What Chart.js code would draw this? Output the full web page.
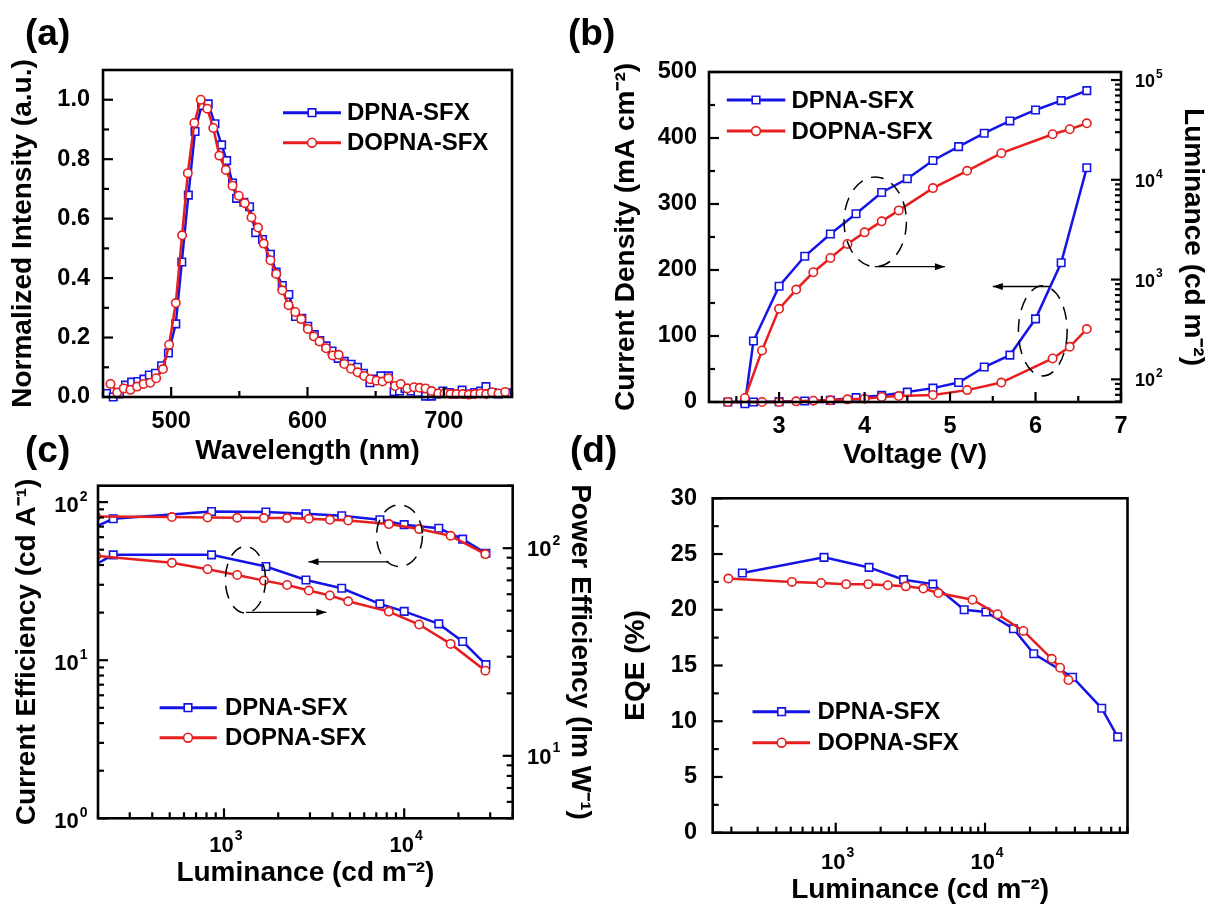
<!DOCTYPE html>
<html>
<head>
<meta charset="utf-8">
<script src="https://cdn.jsdelivr.net/npm/chart.js@4.4.1/dist/chart.umd.min.js"></script>
<style>
body { margin: 0; background: #fff; width: 1214px; height: 907px; overflow: hidden; position: relative; font-family: "Liberation Sans", Arial, sans-serif; }
canvas { position: absolute; }
.lab { position: absolute; font-weight: bold; font-size: 37px; line-height: 1; color: #000; }
</style>
</head>
<body>
<canvas id="pa" width="560" height="480" style="left:0;top:0"></canvas>
<canvas id="pb" width="654" height="480" style="left:560px;top:0"></canvas>
<canvas id="pc" width="600" height="467" style="left:0;top:440px"></canvas>
<canvas id="pd" width="614" height="467" style="left:600px;top:440px"></canvas>
<div class="lab" style="left:25px;top:14px">(a)</div>
<div class="lab" style="left:568px;top:14px">(b)</div>
<div class="lab" style="left:25px;top:431px">(c)</div>
<div class="lab" style="left:570px;top:431px">(d)</div>
<script>
// series names
const names = ['DPNA-SFX', 'DOPNA-SFX'];

// (a) normalized PL spectra
const plWlBlue = [452.6, 457.5, 462.0, 466.5, 471.0, 475.5, 480.0, 484.0, 488.5, 493.0, 498.0, 503.4, 507.8, 512.6, 517.5, 522.3, 527.2, 532.1, 537.0, 540.7, 545.0, 548.0, 553.3, 557.5, 562.0, 567.0, 572.8, 577.0, 581.5, 586.3, 591.2, 595.8, 600.2, 605.0, 609.0, 613.6, 618.0, 622.5, 627.0, 632.0, 636.7, 641.0, 645.8, 650.0, 653.8, 659.4, 663.5, 667.5, 671.5, 676.0, 681.0, 686.6, 691.0, 695.0, 699.3, 704.0, 708.5, 713.4, 718.0, 722.5, 727.0, 730.9, 735.5, 740.0, 746.3];
const plBlue = [0.012, 0.0, 0.01, 0.04, 0.05, 0.052, 0.06, 0.074, 0.08, 0.105, 0.148, 0.246, 0.454, 0.679, 0.893, 0.98, 0.986, 0.919, 0.848, 0.795, 0.72, 0.668, 0.655, 0.64, 0.553, 0.53, 0.48, 0.42, 0.375, 0.345, 0.271, 0.265, 0.238, 0.21, 0.19, 0.172, 0.155, 0.13, 0.12, 0.11, 0.1, 0.08, 0.048, 0.06, 0.071, 0.071, 0.018, 0.02, 0.029, 0.02, 0.015, 0.003, 0.003, 0.01, 0.02, 0.015, 0.01, 0.023, 0.01, 0.015, 0.02, 0.035, 0.015, 0.01, 0.014];
const plWlRed = [455.5, 460.4, 465.2, 470.1, 475.0, 479.8, 484.7, 489.0, 494.0, 498.5, 503.4, 508.0, 512.2, 517.0, 521.7, 526.5, 530.9, 535.3, 540.1, 545.0, 549.6, 554.0, 558.9, 563.7, 567.9, 572.8, 577.1, 581.5, 586.1, 591.0, 595.4, 600.2, 604.6, 608.8, 613.6, 618.5, 622.9, 627.0, 631.9, 636.7, 641.6, 646.0, 650.6, 655.0, 659.4, 664.2, 668.4, 673.2, 678.1, 682.3, 686.6, 691.0, 695.9, 700.5, 704.9, 709.3, 713.9, 718.3, 722.7, 726.8, 731.0, 735.3, 740.1, 745.0];
const plRed = [0.044, 0.015, 0.029, 0.024, 0.035, 0.044, 0.048, 0.063, 0.094, 0.176, 0.316, 0.544, 0.753, 0.922, 1.0, 0.97, 0.905, 0.812, 0.764, 0.711, 0.677, 0.652, 0.604, 0.57, 0.516, 0.46, 0.414, 0.359, 0.309, 0.286, 0.262, 0.229, 0.204, 0.187, 0.164, 0.14, 0.142, 0.111, 0.095, 0.083, 0.071, 0.06, 0.055, 0.052, 0.063, 0.037, 0.044, 0.029, 0.033, 0.031, 0.029, 0.02, 0.012, 0.012, 0.01, 0.01, 0.01, 0.008, 0.01, 0.012, 0.01, 0.016, 0.012, 0.017];

// (b) J-V-L
const vBlue = [2.4, 2.6, 2.7, 3.0, 3.3, 3.6, 3.9, 4.2, 4.5, 4.8, 5.1, 5.4, 5.7, 6.0, 6.3, 6.6];
const jBlue = [0, 0, 0, 0.5, 1.5, 2.5, 6.7, 10, 15, 21, 29.5, 53, 71, 126, 211, 355];
const lumBlue = [null, 57, 242, 858, 1711, 2862, 4571, 7470, 10230, 15600, 21500, 29300, 38900, 50100, 62100, 78200];
const vRed = [2.4, 2.6, 2.8, 3.0, 3.2, 3.4, 3.6, 3.8, 4.0, 4.2, 4.4, 4.8, 5.2, 5.6, 6.2, 6.4, 6.6];
const jRed = [0, 0, 0, 0, 1, 2, 2.5, 4, 5, 7.6, 9, 10.6, 18, 29.5, 66, 83.6, 110.5];
const lumRed = [null, 65, 195, 509, 794, 1184, 1647, 2274, 2973, 3831, 4936, 8254, 12300, 18480, 28600, 32100, 36800];

// (c) current / power efficiency
const ceLumBlue = [170, 243, 853, 1708, 2851, 4500, 7330, 10000, 15560, 21100, 28400];
const ceBlue = [65.5, 78.4, 87.3, 86.5, 84.4, 81.9, 77.3, 72, 68.4, 58.3, 47.5];
const peBlue = [78.5, 92.9, 92.9, 81.6, 70.3, 64.1, 53.9, 49.6, 43.2, 35.5, 27.5];
const ceLumRed = [195, 514, 811, 1184, 1666, 2240, 2958, 3870, 4890, 8220, 12100, 18100, 28200];
const ceRed = [81.1, 80.4, 80, 79.6, 79.2, 79.2, 78.4, 77.3, 76.5, 72.6, 67.5, 61.2, 46.9];
const peRed = [92, 85, 79.2, 74.3, 69.8, 66.5, 62.5, 59.2, 55.5, 49.5, 42.9, 34.6, 25.7];

// (d) EQE
const eqeLumBlue = [237, 835, 1672, 2850, 4475, 7250, 10140, 15490, 21200, 38600, 60500, 77300];
const eqeBlue = [23.3, 24.7, 23.8, 22.7, 22.3, 20.0, 19.8, 18.3, 16.05, 13.95, 11.16, 8.6];
const eqeLumRed = [191, 509, 798, 1175, 1652, 2233, 2944, 3860, 4865, 8240, 12130, 18070, 27980, 31840, 36200];
const eqeRed = [22.8, 22.5, 22.4, 22.3, 22.3, 22.2, 22.1, 21.9, 21.5, 20.9, 19.6, 18.1, 15.6, 14.8, 13.7];

// tick values and labels
const aXTicks = [450, 500, 550, 600, 650, 700, 750];
const aXLabels = ['', '500', '', '600', '', '700', ''];
const aYTicks = [0, 0.1, 0.2, 0.3, 0.4, 0.5, 0.6, 0.7, 0.8, 0.9, 1.0];
const aYLabels = ['0.0', '', '0.2', '', '0.4', '', '0.6', '', '0.8', '', '1.0'];
const bXTicks = [2.5, 3, 3.5, 4, 4.5, 5, 5.5, 6, 6.5, 7];
const bXLabels = ['', '3', '', '4', '', '5', '', '6', '', '7'];
const bYTicks = [0, 50, 100, 150, 200, 250, 300, 350, 400, 450, 500];
const bYLabels = ['0', '', '100', '', '200', '', '300', '', '400', '', '500'];
const dYTicks = [0, 2.5, 5, 7.5, 10, 12.5, 15, 17.5, 20, 22.5, 25, 27.5, 30];
const dYLabels = ['0', '', '5', '', '10', '', '15', '', '20', '', '25', '', '30'];
const decadeVals = [1, 10, 100, 1000, 10000, 100000];
const decadeExp = ['0', '1', '2', '3', '4', '5'];

const FONT = '"Liberation Sans", Arial, sans-serif';
const BLUE = '#1414e6';
const RED = '#e61e1e';

function font(size) { return { family: FONT, weight: 'bold', size: size, lineHeight: 1.2 }; }
function fixW(w) { return function (s) { s.width = w; }; }
function fixH(h) { return function (s) { s.height = h; }; }
function useTicks(vals) { return function (s) { s.ticks = vals.map(v => ({ value: v })); }; }
function logTicks(min, max) {
  const out = [];
  for (let e = Math.floor(Math.log10(min)); e <= Math.ceil(Math.log10(max)); e++) {
    for (let m = 1; m < 10; m++) {
      const v = m * Math.pow(10, e);
      if (v >= min && v <= max) out.push(v);
    }
  }
  return out;
}
function decadeLabel(v) {
  const i = decadeVals.indexOf(v);
  return i < 0 ? '' : '10^' + decadeExp[i];
}

function ds(xs, ys, color, style, order, axis, clip) {
  return {
    data: xs.map((x, i) => ({ x: x, y: ys[i] })),
    borderColor: color,
    backgroundColor: color,
    borderWidth: 2.5,
    pointStyle: style,
    pointRadius: style === 'rect' ? 5.3 : 4.2,
    pointBackgroundColor: '#fff',
    pointBorderColor: color,
    pointBorderWidth: 1.6,
    order: order,
    yAxisID: axis,
    tension: 0,
    clip: clip
  };
}

function axis(o) {
  const isLog = o.type === 'logarithmic';
  const a = {
    type: o.type || 'linear',
    position: o.position,
    min: o.min,
    max: o.max,
    grid: { display: false, drawTicks: false },
    border: { display: false },
    afterBuildTicks: useTicks(o.ticks),
    ticks: {
      // log labels are drawn by the decor plugin with a real superscript
      color: isLog ? 'rgba(0,0,0,0)' : '#000',
      autoSkip: false, maxRotation: 0, minRotation: 0,
      padding: o.pad, font: font(o.size),
      callback: o.labels ? (v, i) => o.labels[i] : decadeLabel
    },
    title: { display: true, text: o.title, color: '#000', font: font(28), padding: o.tpad }
  };
  if (o.position === 'bottom') a.afterFit = fixH(o.box);
  else a.afterFit = fixW(o.box);
  return a;
}

function drawPow(ctx, x, y, exp, size, align) {
  const big = 'bold ' + size + 'px ' + FONT;
  const small = 'bold ' + Math.round(size * 0.64) + 'px ' + FONT;
  ctx.font = big;
  const w1 = ctx.measureText('10').width;
  ctx.font = small;
  const w2 = ctx.measureText(exp).width;
  const total = w1 + 1 + w2;
  const x0 = align === 'right' ? x - total : (align === 'left' ? x : x - total / 2);
  ctx.textBaseline = 'middle';
  ctx.textAlign = 'left';
  ctx.fillStyle = '#000';
  ctx.font = big;
  ctx.fillText('10', x0, y);
  ctx.font = small;
  ctx.fillText(exp, x0 + w1 + 1, y - size * 0.42);
}

// frame, inward ticks, log labels, legend, dashed ellipses and arrows
const decor = {
  id: 'decor',
  afterDatasetsDraw(chart, args, opts) {
    const ctx = chart.ctx;
    const a = chart.chartArea;
    ctx.save();
    ctx.strokeStyle = '#000';
    ctx.lineWidth = 2.2;
    for (const s of Object.values(chart.scales)) {
      const isLog = s.type === 'logarithmic';
      const size = s.options.ticks.font.size;
      const pad = s.options.ticks.padding;
      for (const t of s.ticks) {
        const p = s.getPixelForValue(t.value);
        const len = t.label ? 10 : 6;
        ctx.beginPath();
        if (s.position === 'left') { ctx.moveTo(a.left, p); ctx.lineTo(a.left + len, p); }
        else if (s.position === 'right') { ctx.moveTo(a.right, p); ctx.lineTo(a.right - len, p); }
        else { ctx.moveTo(p, a.bottom); ctx.lineTo(p, a.bottom - len); }
        ctx.stroke();
        if (isLog && t.label) {
          const exp = t.label.slice(3);
          if (s.position === 'left') drawPow(ctx, a.left - pad, p + 4, exp, size, 'right');
          else if (s.position === 'right') drawPow(ctx, a.right + pad, p + 2, exp, size, 'left');
          else drawPow(ctx, p + 2, a.bottom + pad + size * 0.6, exp, size, 'center');
        }
      }
    }
    ctx.lineWidth = 2.6;
    ctx.strokeRect(a.left, a.top, a.right - a.left, a.bottom - a.top);

    const sx = chart.scales.x;
    ctx.lineWidth = 1.5;
    for (const e of (opts.ellipses || [])) {
      const sy = chart.scales[e.axis];
      const x1 = sx.getPixelForValue(e.x[0]), x2 = sx.getPixelForValue(e.x[1]);
      const y1 = sy.getPixelForValue(e.y[0]), y2 = sy.getPixelForValue(e.y[1]);
      ctx.setLineDash([13, 9]);
      ctx.beginPath();
      ctx.ellipse((x1 + x2) / 2, (y1 + y2) / 2, Math.abs(x2 - x1) / 2, Math.abs(y2 - y1) / 2, 0, 0, Math.PI * 2);
      ctx.stroke();
    }
    ctx.setLineDash([]);
    ctx.lineWidth = 1.3;
    ctx.fillStyle = '#000';
    for (const r of (opts.arrows || [])) {
      const sy = chart.scales[r.axis];
      const xa = sx.getPixelForValue(r.from[0]), ya = sy.getPixelForValue(r.from[1]);
      const xb = sx.getPixelForValue(r.to[0]), yb = sy.getPixelForValue(r.to[1]);
      const ang = Math.atan2(yb - ya, xb - xa);
      ctx.beginPath(); ctx.moveTo(xa, ya); ctx.lineTo(xb, yb); ctx.stroke();
      ctx.beginPath();
      ctx.moveTo(xb, yb);
      ctx.lineTo(xb - 10 * Math.cos(ang) + 3.5 * Math.sin(ang), yb - 10 * Math.sin(ang) - 3.5 * Math.cos(ang));
      ctx.lineTo(xb - 10 * Math.cos(ang) - 3.5 * Math.sin(ang), yb - 10 * Math.sin(ang) + 3.5 * Math.cos(ang));
      ctx.closePath(); ctx.fill();
    }

    const lg = opts.legend;
    if (lg) {
      const items = [[BLUE, 'rect'], [RED, 'circle']];
      ctx.font = 'bold 24px ' + FONT;
      ctx.textBaseline = 'middle';
      ctx.textAlign = 'left';
      items.forEach((it, i) => {
        const y = a.top + lg.rows[i];
        ctx.strokeStyle = it[0];
        ctx.lineWidth = 3;
        ctx.beginPath(); ctx.moveTo(a.left + lg.x0, y); ctx.lineTo(a.left + lg.x1, y); ctx.stroke();
        const mx = a.left + lg.mx;
        ctx.fillStyle = '#fff';
        ctx.lineWidth = 1.6;
        ctx.beginPath();
        if (it[1] === 'rect') ctx.rect(mx - 3.8, y - 3.8, 7.6, 7.6);
        else ctx.arc(mx, y, 4.4, 0, Math.PI * 2);
        ctx.fill(); ctx.stroke();
        ctx.fillStyle = '#000';
        ctx.font = 'bold 24px ' + FONT;
        ctx.fillText(names[i], a.left + lg.tx, y + 1);
      });
    }
    ctx.restore();
  }
};

function baseOptions(padding, scales, decorOpts) {
  return {
    responsive: false,
    animation: false,
    devicePixelRatio: 1,
    layout: { padding: padding, autoPadding: false },
    scales: scales,
    plugins: { legend: { display: false }, tooltip: { enabled: false }, decor: decorOpts }
  };
}

// (a)
new Chart(document.getElementById('pa'), {
  type: 'line',
  data: { datasets: [
    ds(plWlRed, plRed, RED, 'circle', 0, 'y', 8),
    ds(plWlBlue, plBlue, BLUE, 'rect', 1, 'y', 8)
  ] },
  options: baseOptions({ top: 70, right: 48, left: 0, bottom: 0 }, {
    x: axis({ position: 'bottom', min: 450, max: 750, ticks: aXTicks, labels: aXLabels, pad: 10.9, size: 23.5, box: 83,
      title: 'Wavelength (nm)', tpad: { top: 0, bottom: 12.2 } }),
    y: axis({ position: 'left', min: 0, max: 1.1, ticks: aYTicks, labels: aYLabels, pad: 13, size: 23.5, box: 103,
      title: 'Normalized Intensity (a.u.)', tpad: { top: 6.2, bottom: 0 } })
  }, { legend: { x0: 180, x1: 238, mx: 209, tx: 244, rows: [42.7, 72.7] } }),
  plugins: [decor]
});

// (b)
new Chart(document.getElementById('pb'), {
  type: 'line',
  data: { datasets: [
    ds(vRed, lumRed, RED, 'circle', 0, 'y2', 8),
    ds(vBlue, lumBlue, BLUE, 'rect', 1, 'y2', 8),
    ds(vRed, jRed, RED, 'circle', 2, 'y', 8),
    ds(vBlue, jBlue, BLUE, 'rect', 3, 'y', 8)
  ] },
  options: baseOptions({ top: 72, right: 0, left: 0, bottom: 0 }, {
    x: axis({ position: 'bottom', min: 2.18, max: 7, ticks: bXTicks, labels: bXLabels, pad: 10.9, size: 23.5, box: 78,
      title: 'Voltage (V)', tpad: { top: 0, bottom: 8.2 } }),
    y: axis({ position: 'left', min: 0, max: 500, ticks: bYTicks, labels: bYLabels, pad: 12, size: 23.5, box: 149,
      title: 'Current Density (mA cm⁻²)', tpad: { top: 49.7, bottom: 0 } }),
    y2: axis({ type: 'logarithmic', position: 'right', min: 59.3, max: 120300, ticks: logTicks(59.3, 120300), pad: 14, size: 18, box: 93,
      title: 'Luminance (cd m⁻²)', tpad: { top: 4.2, bottom: 0 } })
  }, {
    legend: { x0: 17.8, x1: 76.3, mx: 47, tx: 82.5, rows: [28, 59] },
    ellipses: [
      { axis: 'y', x: [3.76, 4.49], y: [205, 341] },
      { axis: 'y', x: [5.80, 6.37], y: [39.5, 176] }
    ],
    arrows: [
      { axis: 'y', from: [4.12, 205], to: [4.94, 205] },
      { axis: 'y', from: [6.17, 175], to: [5.5, 175] }
    ]
  }),
  plugins: [decor]
});

// (c)
new Chart(document.getElementById('pc'), {
  type: 'line',
  data: { datasets: [
    ds(ceLumRed, ceRed, RED, 'circle', 0, 'y'),
    ds(ceLumBlue, ceBlue, BLUE, 'rect', 1, 'y'),
    ds(ceLumRed, peRed, RED, 'circle', 2, 'y2'),
    ds(ceLumBlue, peBlue, BLUE, 'rect', 3, 'y2')
  ] },
  options: baseOptions({ top: 45.7, right: 0, left: 0, bottom: 0 }, {
    x: axis({ type: 'logarithmic', position: 'bottom', min: 200, max: 40000, ticks: logTicks(200, 40000), pad: 14.1, size: 22, box: 88.7,
      title: 'Luminance (cd m⁻²)', tpad: { top: 0, bottom: 17.2 } }),
    y: axis({ type: 'logarithmic', position: 'left', min: 1, max: 127, ticks: logTicks(1, 127), pad: 10.5, size: 22, box: 98,
      title: 'Current Efficiency (cd A⁻¹)', tpad: { top: 10.2, bottom: 0 } }),
    y2: axis({ type: 'logarithmic', position: 'right', min: 5, max: 200, ticks: logTicks(5, 200), pad: 14.3, size: 22, box: 87.3,
      title: 'Power Efficiency (lm W⁻¹)', tpad: { top: 3.2, bottom: 0 } })
  }, {
    legend: { x0: 61.6, x1: 118.8, mx: 90, tx: 127, rows: [222, 252] },
    ellipses: [
      { axis: 'y', x: [7020, 12630], y: [39.1, 96.1] },
      { axis: 'y2', x: [1018, 1702], y: [48.7, 101.9] }
    ],
    arrows: [
      { axis: 'y', from: [8220, 41.9], to: [2944, 41.9] },
      { axis: 'y2', from: [1325, 49.1], to: [3700, 49.1] }
    ]
  }),
  plugins: [decor]
});

// (d)
new Chart(document.getElementById('pd'), {
  type: 'line',
  data: { datasets: [
    ds(eqeLumRed, eqeRed, RED, 'circle', 0, 'y', 8),
    ds(eqeLumBlue, eqeBlue, BLUE, 'rect', 1, 'y', 8)
  ] },
  options: baseOptions({ top: 58.3, right: 86.5, left: 0, bottom: 0 }, {
    x: axis({ type: 'logarithmic', position: 'bottom', min: 150, max: 90000, ticks: logTicks(150, 90000), pad: 16.7, size: 22, box: 74.3,
      title: 'Luminance (cd m⁻²)', tpad: { top: 0, bottom: 0.2 } }),
    y: axis({ position: 'left', min: 0, max: 30, ticks: dYTicks, labels: dYLabels, pad: 15.7, size: 23.5, box: 112.7,
      title: 'EQE (%)', tpad: { top: 19.2, bottom: 0 } })
  }, { legend: { x0: 39.8, x1: 97.3, mx: 68.9, tx: 104.8, rows: [213.4, 244.4] } }),
  plugins: [decor]
});
</script>
</body>
</html>
